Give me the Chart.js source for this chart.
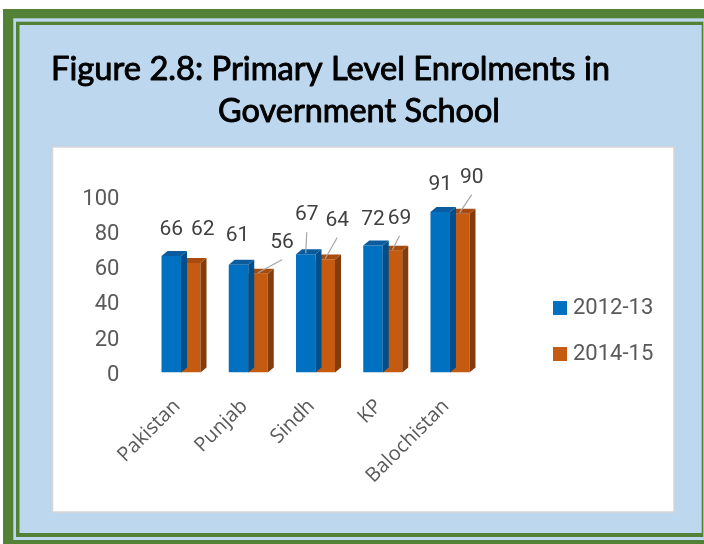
<!DOCTYPE html>
<html>
<head>
<meta charset="utf-8">
<script src="https://cdn.jsdelivr.net/npm/chart.js@4.4.0/dist/chart.umd.min.js"></script>
<style>
html,body{margin:0;padding:0;background:#fff;overflow:hidden}
#wrap{position:relative;width:704px;height:544px}
canvas{display:block}
</style>
</head>
<body>
<div id="wrap"><canvas id="c" width="704" height="544" style="width:704px;height:544px"></canvas></div>
<script>
// ---- data ----
const categories = ['Pakistan', 'Punjab', 'Sindh', 'KP', 'Balochistan'];
const values2012 = [66, 61, 67, 72, 91];
const values2014 = [62, 56, 64, 69, 90];
const seriesNames = ['2012-13', '2014-15'];
const yTickValues = [0, 20, 40, 60, 80, 100];
const titleLines = ['Figure 2.8: Primary Level Enrolments in', 'Government School'];

// ---- styles ----
const GREEN = '#538135';
const LIGHTBLUE = '#BDD7EE';
const frontColors = ['#0070C0', '#C55A11'];
const topColors = ['#0A5C9E', '#A84B0E'];
const sideColors = ['#004F8A', '#843C0C'];
// label placement (offset of label centre from bar top) and leader-line flags
const labelOffsets = [
  [[0, -26], [-1, -29], [1, -39], [0, -26], [0, -27]],
  [[12, -33], [24, -31], [12, -39], [7, -32], [12, -36]]
];
const leaderFlags = [
  [false, false, true, false, false],
  [false, true, true, true, true]
];
const DEPTH_X = 6, DEPTH_Y = 5;

const framePlugin = {
  id: 'frame',
  beforeDraw(chart) {
    const ctx = chart.ctx;
    ctx.save();
    ctx.fillStyle = '#ffffff';
    ctx.fillRect(0, 0, 704, 544);
    ctx.fillStyle = GREEN;
    ctx.fillRect(3, 9, 720, 560);
    ctx.fillStyle = LIGHTBLUE;
    ctx.fillRect(13.3, 18.3, 720, 521.7);
    ctx.fillStyle = GREEN;
    ctx.fillRect(16, 21.7, 687.3, 515.3);
    ctx.fillStyle = LIGHTBLUE;
    ctx.fillRect(19.5, 25, 682.2, 508);
    // white chart panel
    ctx.fillStyle = '#ffffff';
    ctx.fillRect(52.5, 147, 621.5, 365);
    ctx.strokeStyle = '#D6D6D6';
    ctx.lineWidth = 1.5;
    ctx.strokeRect(52.5, 147, 621.5, 365);
    // title
    ctx.fillStyle = '#000000';
    ctx.strokeStyle = '#000000';
    ctx.lineWidth = 0.9;
    ctx.lineJoin = 'round';
    ctx.textBaseline = 'alphabetic';
    ctx.textAlign = 'left';
    ctx.font = '32px Lato';
    const specs = [[51, 80, 559], [218, 122, 282]];
    titleLines.forEach((t, i) => {
      const [x, y, w] = specs[i];
      const mw = ctx.measureText(t).width;
      ctx.save();
      ctx.translate(x, y);
      ctx.scale(w / mw, 1);
      ctx.fillText(t, 0, 0);
      ctx.strokeText(t, 0, 0);
      ctx.restore();
    });
    ctx.restore();
  }
};

const bars3dPlugin = {
  id: 'bars3d',
  afterDatasetDraw(chart, args) {
    const i = args.index;
    const meta = chart.getDatasetMeta(i);
    const ctx = chart.ctx;
    ctx.save();
    meta.data.forEach(bar => {
      const p = bar.getProps(['x', 'y', 'base', 'width'], true);
      const l = p.x - p.width / 2, r = p.x + p.width / 2;
      ctx.fillStyle = sideColors[i];
      ctx.beginPath();
      ctx.moveTo(r, p.y);
      ctx.lineTo(r + DEPTH_X, p.y - DEPTH_Y);
      ctx.lineTo(r + DEPTH_X, p.base - DEPTH_Y);
      ctx.lineTo(r, p.base);
      ctx.closePath();
      ctx.fill();
      ctx.fillStyle = topColors[i];
      ctx.beginPath();
      ctx.moveTo(l, p.y);
      ctx.lineTo(l + DEPTH_X, p.y - DEPTH_Y);
      ctx.lineTo(r + DEPTH_X, p.y - DEPTH_Y);
      ctx.lineTo(r, p.y);
      ctx.closePath();
      ctx.fill();
    });
    ctx.restore();
  }
};

const labelsPlugin = {
  id: 'valueLabels',
  afterDatasetsDraw(chart) {
    const ctx = chart.ctx;
    ctx.save();
    ctx.font = '21px Roboto';
    ctx.fillStyle = '#404040';
    ctx.textAlign = 'center';
    ctx.textBaseline = 'middle';
    chart.data.datasets.forEach((ds, i) => {
      const meta = chart.getDatasetMeta(i);
      meta.data.forEach((bar, j) => {
        const p = bar.getProps(['x', 'y'], true);
        const [ox, oy] = labelOffsets[i][j];
        const lx = p.x + ox, ly = p.y + oy;
        if (leaderFlags[i][j]) {
          ctx.strokeStyle = '#A6A6A6';
          ctx.lineWidth = 1.2;
          ctx.beginPath();
          ctx.moveTo(lx, ly + 17);
          ctx.lineTo(p.x, p.y - 1);
          ctx.stroke();
        }
        ctx.fillText(String(ds.data[j]), lx, ly);
      });
    });
    ctx.restore();
  }
};

const legendPlugin = {
  id: 'customLegend',
  afterDraw(chart) {
    const ctx = chart.ctx;
    ctx.save();
    ctx.font = '22px Roboto';
    ctx.textAlign = 'left';
    ctx.textBaseline = 'middle';
    const ys = [308, 354];
    chart.data.datasets.forEach((ds, i) => {
      ctx.fillStyle = ds.backgroundColor;
      ctx.fillRect(553, ys[i] - 7, 14, 14);
      ctx.fillStyle = '#595959';
      ctx.fillText(ds.label, 573, ys[i]);
    });
    ctx.restore();
  }
};

function makeChart() {
  new Chart(document.getElementById('c'), {
    type: 'bar',
    data: {
      labels: categories,
      datasets: [
        { label: seriesNames[0], data: values2012, backgroundColor: frontColors[0], borderWidth: 0 },
        { label: seriesNames[1], data: values2014, backgroundColor: frontColors[1], borderWidth: 0 }
      ]
    },
    options: {
      responsive: false,
      animation: false,
      devicePixelRatio: 1,
      categoryPercentage: 0.58,
      barPercentage: 1.0,
      layout: { padding: { left: 47.4, right: 220.4, top: 196, bottom: 26.5 } },
      plugins: { legend: { display: false }, title: { display: false }, tooltip: { enabled: false } },
      scales: {
        x: {
          grid: { display: false, drawTicks: false },
          border: { display: false },
          ticks: {
            autoSkip: false,
            minRotation: 45, maxRotation: 45,
            padding: 22,
            labelOffset: -4,
            color: '#595959',
            font: { family: 'Open Sans', size: 20 }
          },
          afterFit(scale) { scale.height = 145; }
        },
        y: {
          min: 0, max: 100,
          grid: { display: false, drawTicks: false },
          border: { display: false },
          afterBuildTicks(scale) { scale.ticks = yTickValues.map(v => ({ value: v })); },
          ticks: {
            padding: 28,
            labelOffset: 3,
            color: '#595959',
            font: { family: 'Roboto', size: 22 }
          },
          afterFit(scale) { scale.width = 100; }
        }
      }
    },
    plugins: [framePlugin, bars3dPlugin, labelsPlugin, legendPlugin]
  });
}

Promise.all([
  document.fonts.load('32px Lato'),
  document.fonts.load('21px Roboto'),
  document.fonts.load('20px "Open Sans"')
]).then(makeChart, makeChart);
</script>
</body>
</html>
